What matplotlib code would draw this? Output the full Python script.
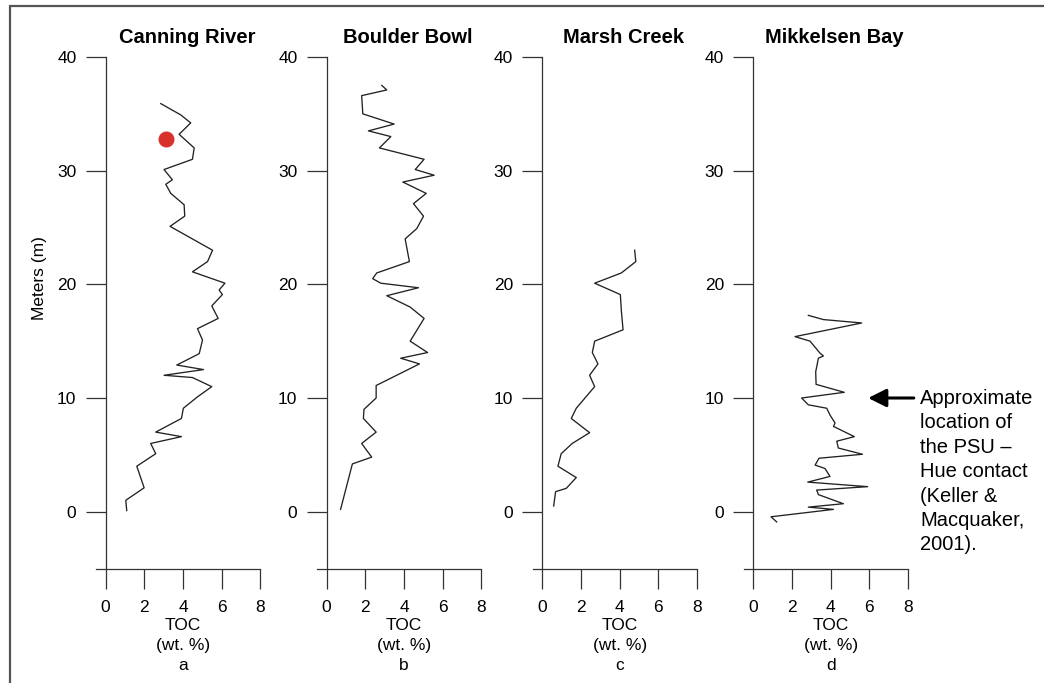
import matplotlib.pyplot as plt
from matplotlib.patches import Rectangle

plt.rcParams['font.family'] = ['Liberation Sans', 'DejaVu Sans']

# TOC profiles (wt. %) against stratigraphic height (m)
toc_a = [2.85, 3.89, 4.40, 3.80, 4.58, 4.49, 3.02, 3.45, 3.11, 3.37, 4.06, 4.09, 3.33,
         5.53, 5.27, 4.49, 6.17, 5.87, 6.04, 5.49, 5.82, 4.75, 5.01, 4.84, 3.68, 5.06,
         3.02, 4.49, 5.49, 4.75, 4.02, 3.92, 2.59, 3.92, 2.33, 2.59, 1.61, 1.99, 1.04, 1.09]
depth_a = [35.9, 34.9, 34.2, 33.2, 32.0, 31.0, 30.1, 29.2, 28.8, 28.0, 27.0, 26.0, 25.1,
           23.0, 22.0, 21.1, 20.1, 19.5, 19.1, 18.1, 17.0, 16.1, 15.1, 13.9, 12.9, 12.5,
           12.0, 11.8, 11.0, 10.1, 9.1, 8.2, 7.0, 6.6, 6.0, 5.1, 4.0, 2.1, 1.0, 0.1]

toc_b = [2.85, 3.11, 1.81, 1.87, 3.49, 2.16, 3.32, 2.73, 5.04, 4.58, 5.56, 3.94, 5.15,
         4.49, 5.01, 4.66, 4.06, 4.28, 2.59, 2.38, 2.80, 4.75, 3.11, 4.32, 5.04, 4.32,
         5.22, 3.83, 4.80, 2.56, 2.56, 1.93, 1.90, 2.56, 1.81, 2.33, 1.33, 0.72]
depth_b = [37.5, 37.1, 36.6, 35.0, 34.1, 33.5, 33.0, 32.0, 31.0, 30.1, 29.6, 29.0, 28.0,
           27.1, 26.0, 24.9, 24.0, 22.0, 21.0, 20.5, 20.1, 19.7, 19.0, 18.0, 17.0, 15.0,
           14.0, 13.5, 13.0, 11.1, 10.0, 9.0, 8.2, 7.0, 6.0, 4.8, 4.2, 0.2]

toc_c = [4.78, 4.84, 4.09, 2.71, 4.04, 4.09, 4.18, 2.71, 2.59, 2.88, 2.45, 2.71, 1.76,
         1.50, 2.45, 1.55, 0.98, 0.81, 1.76, 1.24, 0.69, 0.59]
depth_c = [23.0, 22.0, 21.0, 20.1, 19.1, 17.7, 16.0, 15.0, 14.0, 13.0, 12.0, 11.0, 9.1,
           8.2, 6.95, 6.0, 5.1, 4.0, 3.0, 2.05, 1.76, 0.5]

toc_d = [2.85, 3.63, 5.61, 2.16, 2.94, 3.45, 3.63, 3.37, 3.23, 3.25, 4.71, 2.50, 2.85,
         3.80, 3.97, 4.23, 4.15, 5.23, 4.32, 4.40, 5.65, 3.40, 3.20, 3.71, 3.97, 2.82,
         5.92, 3.28, 3.37, 4.66, 2.85, 4.15, 0.92, 1.21]
depth_d = [17.27, 16.9, 16.6, 15.4, 15.0, 13.95, 13.7, 13.5, 12.3, 11.2, 10.5, 10.0, 9.4,
           9.1, 8.5, 7.8, 7.5, 6.6, 6.2, 5.6, 5.05, 4.7, 4.1, 3.8, 3.1, 2.6,
           2.2, 1.9, 1.5, 0.7, 0.4, 0.2, -0.45, -0.9]

sites = ['Canning River', 'Boulder Bowl', 'Marsh Creek', 'Mikkelsen Bay']
panel_letters = ['a', 'b', 'c', 'd']
profiles = [(toc_a, depth_a), (toc_b, depth_b), (toc_c, depth_c), (toc_d, depth_d)]

# sample marked in red on the Canning River section
marker_toc, marker_depth = 3.14, 32.8

# PSU - Hue contact height at Mikkelsen Bay
contact_depth = 10

W, H = 1044, 683
fig = plt.figure(figsize=(W / 100, H / 100), dpi=100)

# grey frame around the figure
fig.patches.append(Rectangle((10 / W, -0.1), 1.2, 1.1 - 5.7 / H, transform=fig.transFigure,
                             fill=False, edgecolor='#555555', linewidth=1.6))

lefts = [96.0, 317.0, 532.6, 743.6]
ax_w, ax_top, ax_bot = 164.3, 57.0, 568.5

axes = []
for left, name, letter, (toc, depth) in zip(lefts, sites, panel_letters, profiles):
    ax = fig.add_axes([left / W, 1 - ax_bot / H, ax_w / W, (ax_bot - ax_top) / H])
    ax.plot(toc, depth, color='#222222', linewidth=0.95)
    ax.set_xlim(-0.5, 8)
    ax.set_ylim(-5, 40)
    ax.set_xticks([0, 2, 4, 6, 8])
    ax.set_yticks([0, 10, 20, 30, 40])
    ax.spines['left'].set_position(('data', 0))
    ax.spines['right'].set_visible(False)
    ax.spines['top'].set_visible(False)
    for s in ['left', 'bottom']:
        ax.spines[s].set_color('#333333')
        ax.spines[s].set_linewidth(0.9)
    ax.tick_params(axis='both', direction='out', length=14.5, width=0.9, color='#333333',
                   labelsize=12.5)
    ax.tick_params(axis='x', pad=8)
    ax.tick_params(axis='y', pad=6.5)
    ax.patch.set_alpha(0)

    tr = ax.get_xaxis_transform()
    ax.text(4.2, 1.0274, name, transform=tr, ha='center', va='baseline',
            fontsize=14.5, fontweight='bold')
    ax.text(4, -0.1105, 'TOC', transform=tr, ha='center', va='center', fontsize=12.5)
    ax.text(4, -0.1506, '(wt. %)', transform=tr, ha='center', va='center', fontsize=12.5)
    ax.text(4, -0.1897, letter, transform=tr, ha='center', va='center', fontsize=12.5)
    axes.append(ax)

ax_a = axes[0]
ax_a.set_ylabel('Meters (m)', fontsize=12.5)
ax_a.yaxis.set_label_coords(-0.30, 0.568)
ax_a.plot([marker_toc], [marker_depth], 'o', color='#d8312b', markersize=10.5, zorder=5)

ax_d = axes[3]
ax_d.annotate('', xy=(5.8, contact_depth), xytext=(8.45, contact_depth),
              arrowprops=dict(arrowstyle='-|>,head_length=1.1,head_width=0.55',
                              color='black', linewidth=2.2), annotation_clip=False)
ax_d.text(8.63, contact_depth + 0.8,
          'Approximate\nlocation of\nthe PSU \u2013\nHue contact\n(Keller &\nMacquaker,\n2001).',
          ha='left', va='top', fontsize=14.5, linespacing=1.36, clip_on=False)

fig.savefig('out.png', dpi=100)
